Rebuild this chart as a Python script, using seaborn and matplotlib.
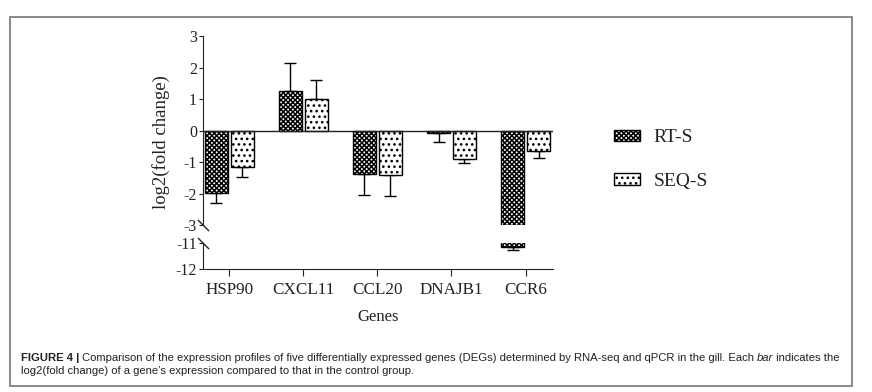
import numpy as np
import pandas as pd
import matplotlib
matplotlib.use("Agg")
import matplotlib.pyplot as plt
from matplotlib.patches import Rectangle
import seaborn as sns

genes = ['HSP90', 'CXCL11', 'CCL20', 'DNAJB1', 'CCR6']
groups = ['RT-S', 'SEQ-S']
rt_s = [-1.97, 1.26, -1.38, -0.08, -11.15]
rt_s_err = [0.31, 0.88, 0.66, 0.27, 0.13]
seq_s = [-1.15, 1.00, -1.40, -0.89, -0.64]
seq_s_err = [0.32, 0.61, 0.66, 0.13, 0.24]

df = pd.DataFrame({
    'gene': genes * 2,
    'group': [groups[0]] * 5 + [groups[1]] * 5,
    'value': rt_s + seq_s,
})
errs = [rt_s_err, seq_s_err]
vals = [rt_s, seq_s]

sns.set_style('ticks')
plt.rcParams['font.family'] = ['Liberation Serif', 'DejaVu Serif']
plt.rcParams['axes.unicode_minus'] = False
plt.rcParams['hatch.linewidth'] = 1.1
txt = '#222222'

fig = plt.figure(figsize=(8.72, 3.92), dpi=100)
L, R = 203.3 / 872, 553 / 872
ax_top = fig.add_axes([L, 1 - 225.3 / 392, R - L, (225.3 - 36.2) / 392])
ax_bot = fig.add_axes([L, 1 - 268.7 / 392, R - L, (268.7 - 243.3) / 392], sharex=ax_top)

hatches = ['xxxxxxx', '...']
for ax in (ax_top, ax_bot):
    sns.barplot(data=df, x='gene', y='value', hue='group', ax=ax, width=0.7, gap=0.1,
                palette=['white', 'white'], edgecolor='black', linewidth=1,
                errorbar=None, legend=False, zorder=2)
    bar_conts = list(ax.containers)
    for k, cont in enumerate(bar_conts):
        xs = []
        for p in cont:
            p.set_hatch(hatches[k])
            xs.append(p.get_x() + p.get_width() / 2)
        v = np.array(vals[k])
        e = np.array(errs[k])
        lower = np.where(v < 0, e, 0)
        upper = np.where(v > 0, e, 0)
        ax.errorbar(xs, v, yerr=[lower, upper], fmt='none', ecolor='black',
                    elinewidth=1, capsize=4, capthick=1, zorder=1)
    ax.set_xlim(-0.35, 4.37)
    ax.set_xlabel('')
    ax.set_ylabel('')
    for s in ['top', 'right']:
        ax.spines[s].set_visible(False)
    ax.spines['left'].set_color(txt)
    ax.spines['bottom'].set_color(txt)

ax_top.set_ylim(-3, 3)
ax_top.set_yticks([-3, -2, -1, 0, 1, 2, 3])
ax_top.spines['bottom'].set_visible(False)
ax_top.tick_params(axis='x', bottom=False, labelbottom=False)
ax_top.axhline(0, color=txt, lw=1, zorder=3)
ax_top.tick_params(axis='y', length=3, pad=1.5, labelsize=11.5, colors=txt)

ax_bot.set_ylim(-12, -11)
ax_bot.set_yticks([-12, -11])
ax_bot.tick_params(axis='y', length=3, pad=1.5, labelsize=11.5, colors=txt)
ax_bot.tick_params(axis='x', length=5, pad=4.5, labelsize=12.3, colors=txt)
ax_bot.set_xlabel('Genes', fontsize=12, color=txt)
ax_bot.xaxis.set_label_coords(0.5, -1.58)

ax_top.set_ylabel('log2(fold change)', fontsize=13.5, color=txt)
ax_top.yaxis.set_label_coords(-0.095, 0.438)

# break marks
kw = dict(marker=[(-1, 1), (1, -1)], markersize=8, linestyle='none',
          color=txt, mec=txt, mew=1, clip_on=False)
ax_top.plot([0], [0], transform=ax_top.transAxes, **kw)
ax_bot.plot([0], [1], transform=ax_bot.transAxes, **kw)

# legend
handles = [Rectangle((0, 0), 1, 1, facecolor='white', edgecolor='black', hatch=h, lw=1)
           for h in hatches]
fig.legend(handles, groups, loc='upper left', bbox_to_anchor=(596 / 872, 1 - 112 / 392),
           frameon=False, fontsize=14, handlelength=1.34, handleheight=0.52,
           handletextpad=0.72, labelspacing=1.35, labelcolor=txt)

# frame and caption
fig.add_artist(Rectangle((10 / 872, 1 - 386 / 392), 842 / 872, 369 / 392,
                         transform=fig.transFigure, fill=False, edgecolor='#808080', lw=1.3))
cap_font = ['Liberation Sans', 'DejaVu Sans']
cap_size = 8.15
renderer = fig.canvas.get_renderer()


def put_line(pieces, x_px, y_px):
    x = x_px
    for s, w, st in pieces:
        t = fig.text(x / 872, 1 - y_px / 392, s, fontsize=cap_size, family=cap_font,
                     weight=w, style=st, color=txt, va='baseline')
        x = t.get_window_extent(renderer).x1


put_line([('FIGURE 4 | ', 'bold', 'normal'),
          ('Comparison of the expression profiles of five differentially expressed genes (DEGs) '
           'determined by RNA-seq and qPCR in the gill. Each ', 'normal', 'normal'),
          ('bar', 'normal', 'italic'),
          (' indicates the', 'normal', 'normal')], 20.5, 361)
put_line([("log2(fold change) of a gene\u2019s expression compared to that in the control group.",
           'normal', 'normal')], 20.5, 374)

fig.savefig('out.png', dpi=100)
